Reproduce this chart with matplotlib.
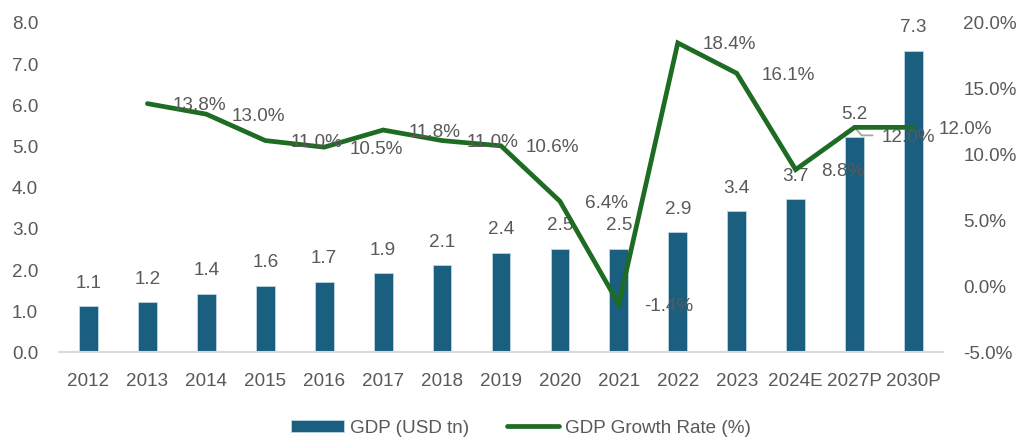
import matplotlib
matplotlib.use("Agg")
import matplotlib.pyplot as plt
import matplotlib.transforms as mtransforms
import numpy as np

years = ["2012", "2013", "2014", "2015", "2016", "2017", "2018", "2019", "2020",
         "2021", "2022", "2023", "2024E", "2027P", "2030P"]
gdp = [1.1, 1.2, 1.4, 1.6, 1.7, 1.9, 2.1, 2.4, 2.5, 2.5, 2.9, 3.4, 3.7, 5.2, 7.3]
growth_years = years[1:]
growth = [13.8, 13.0, 11.0, 10.5, 11.8, 11.0, 10.6, 6.4, -1.4, 18.4, 16.1, 8.8, 12.0, 12.0]

bar_color = "#1A5E80"
line_color = "#1E6B23"
text_color = "#595959"

plt.rcParams['font.family'] = ['Liberation Sans', 'DejaVu Sans']
fs = 13.6

fig = plt.figure(figsize=(10.30, 4.39), dpi=100)
ax = fig.add_axes([59/1030, 1-352.7/439, (943-59)/1030, (352.7-22.8)/439])
ax2 = ax.twinx()

x = np.arange(len(years))
bars = ax.bar(x, gdp, width=0.32, color=bar_color, edgecolor="#BFD6E3", linewidth=0.6,
              label="GDP (USD tn)", zorder=2)
ax.set_xlim(-0.5, len(years) - 0.5)
ax.set_ylim(0, 8)
ax.set_yticks(np.arange(0, 8.01, 1.0))
ax.set_yticklabels([f"{v:.1f}" for v in np.arange(0, 8.01, 1.0)])
ax.set_xticks(x)
ax.set_xticklabels(years)

for xi, v in zip(x, gdp):
    ax.annotate(f"{v:.1f}", (xi, v), xytext=(0, 24), textcoords="offset pixels",
                ha="center", va="center", fontsize=fs, color=text_color, zorder=5)

gx = [years.index(y) for y in growth_years]
line, = ax2.plot(gx, growth, color=line_color, linewidth=3.4, solid_capstyle="round",
                 solid_joinstyle="miter", label="GDP Growth Rate (%)", zorder=3)
ax2.set_ylim(-5, 20)
ax2.set_yticks(np.arange(-5, 20.01, 5))
ax2.set_yticklabels([f"{v:.1f}%" for v in np.arange(-5, 20.01, 5)])

for xi, v, yr in zip(gx, growth, growth_years):
    if yr == "2027P":
        ax2.annotate(f"{v:.1f}%", (xi, v), xytext=(27, -9), textcoords="offset pixels",
                     ha="left", va="center", fontsize=fs, color=text_color, zorder=5)
        # leader line: short diagonal then horizontal, in pixel offsets from the point
        base = ax2.transData
        pts = [(0, 0), (7, -8), (18, -8)]
        for (dx0, dy0), (dx1, dy1) in zip(pts[:-1], pts[1:]):
            t0 = mtransforms.offset_copy(base, fig=fig, x=dx0, y=dy0, units="dots")
            ax2.annotate("", xy=(xi, v), xycoords=mtransforms.offset_copy(base, fig=fig, x=dx1, y=dy1, units="dots"),
                         xytext=(xi, v), textcoords=t0,
                         arrowprops=dict(arrowstyle="-", color="#A6A6A6", lw=1.3,
                                         shrinkA=0, shrinkB=0), zorder=2)
    else:
        ax2.annotate(f"{v:.1f}%", (xi, v), xytext=(25, -1), textcoords="offset pixels",
                     ha="left", va="center", fontsize=fs, color=text_color, zorder=5)

for a in (ax, ax2):
    for s in ["top", "left", "right", "bottom"]:
        a.spines[s].set_visible(False)
ax.spines["bottom"].set_visible(True)
ax.spines["bottom"].set_color("#D9D9D9")
ax.spines["bottom"].set_linewidth(1.5)

ax.tick_params(axis="y", length=0, pad=15, labelsize=fs, labelcolor=text_color)
ax.tick_params(axis="x", length=0, pad=14.5, labelsize=fs, labelcolor=text_color)
ax2.tick_params(axis="y", length=0, pad=14.5, labelsize=fs, labelcolor=text_color)

fig.legend(handles=[bars, line], labels=["GDP (USD tn)", "GDP Growth Rate (%)"],
           loc="center", bbox_to_anchor=(521/1030, 1-429/439), ncol=2, frameon=False,
           fontsize=fs, labelcolor=text_color, handlelength=2.8, handleheight=0.6,
           handletextpad=0.3, columnspacing=2.0)

fig.savefig("out.png", dpi=100)
